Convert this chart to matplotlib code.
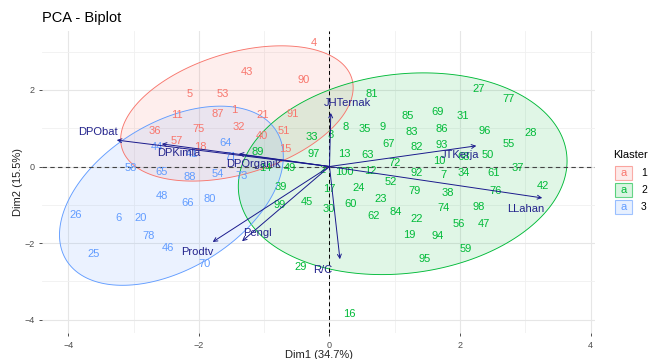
import numpy as np
import matplotlib.pyplot as plt
from matplotlib.patches import Polygon, Rectangle

plt.rcParams['font.family'] = ['Liberation Sans', 'DejaVu Sans']

# individuals, cluster 1
c1_ids = [1, 4, 5, 11, 15, 18, 21, 32, 36, 40, 43, 51, 53, 57, 75, 87, 90, 91]
c1_x = [-1.46, -0.24, -2.14, -2.34, -0.67, -1.98, -1.02, -1.39, -2.67, -1.03,
        -1.26, -0.70, -1.63, -2.34, -2.00, -1.72, -0.39, -0.56]
c1_y = [1.48, 3.22, 1.89, 1.34, 0.46, 0.51, 1.34, 1.03, 0.93, 0.80,
        2.47, 0.93, 1.89, 0.67, 0.98, 1.37, 2.26, 1.37]

# cluster 2
c2_ids = [2, 3, 7, 8, 9, 10, 12, 13, 14, 16, 17, 19, 22, 23, 24, 27, 28, 29, 30, 31,
          33, 34, 35, 37, 38, 39, 42, 45, 47, 49, 50, 52, 55, 56, 59, 60, 61, 62, 63, 67,
          68, 69, 72, 74, 76, 77, 79, 81, 82, 83, 84, 85, 86, 89, 92, 93, 94, 95, 96, 97,
          98, 99, 100]
c2_x = [-0.11, 0.02, 1.75, 0.25, 0.82, 1.68, 0.62, 0.22, -0.99, 0.31, -0.01, 1.23, 1.34, 0.79, 0.44, 2.28, 3.09, -0.45, -0.01, 2.05,
        -0.27, 2.06, 0.54, 2.89, 1.82, -0.74, 3.27, -0.34, 2.37, -0.61, 2.43, 0.94, 2.74, 1.98, 2.09, 0.33, 2.51, 0.67, 0.59, 0.91,
        2.05, 1.65, 1.00, 1.75, 2.54, 2.75, 1.30, 0.64, 1.34, 1.26, 1.02, 1.20, 1.72, -1.10, 1.34, 1.72, 1.65, 1.46, 2.38, -0.25,
        2.29, -0.77, 0.22]
c2_y = [-0.09, 0.82, -0.22, 1.03, 1.03, 0.14, -0.12, 0.33, -0.04, -3.85, -0.59, -1.79, -1.37, -0.85, -0.56, 2.02, 0.87, -2.62, -1.11, 1.32,
        0.77, -0.17, 0.98, -0.04, -0.69, -0.54, -0.51, -0.93, -1.50, -0.04, 0.30, -0.40, 0.59, -1.50, -2.15, -0.98, -0.17, -1.29, 0.30, 0.59,
        0.25, 1.42, 0.09, -1.08, -0.64, 1.76, -0.64, 1.89, 0.51, 0.90, -1.19, 1.32, 0.98, 0.38, -0.17, 0.56, -1.81, -2.42, 0.93, 0.33,
        -1.06, -1.01, -0.14]

# cluster 3
c3_ids = [6, 20, 25, 26, 41, 44, 46, 48, 54, 58, 64, 65, 66, 70, 71, 73, 78, 80, 88]
c3_x = [-3.24, -2.89, -3.61, -3.89, -2.11, -2.64, -2.48, -2.57, -1.71, -3.04,
        -1.59, -2.57, -2.17, -1.92, -1.52, -1.34, -2.77, -1.83, -2.14]
c3_y = [-1.34, -1.34, -2.28, -1.27, 0.33, 0.51, -2.13, -0.77, -0.20, -0.04,
        0.61, -0.14, -0.95, -2.55, 0.25, -0.25, -1.81, -0.85, -0.27]

# variables (arrow tips) and their label positions
var_names = ['DPObat', 'DPKimia', 'DPOrganik', 'JHTernak', 'JTKerja',
             'LLahan', 'R/C', 'Pengl', 'Prodtv']
var_x = [-3.26, -2.57, -1.39, 0.02, 2.25, 3.26, 0.16, -1.34, -1.79]
var_y = [0.69, 0.59, 0.33, 1.40, 0.54, -0.82, -2.42, -1.95, -1.97]
var_lab_x = [-3.55, -2.31, -1.17, 0.27, 2.00, 3.01, -0.10, -1.11, -2.02]
var_lab_y = [0.90, 0.35, 0.07, 1.66, 0.30, -1.11, -2.70, -1.74, -2.23]

cluster_names = ['1', '2', '3']
cluster_colors = ['#F8766D', '#00BA38', '#619CFF']
x_label = 'Dim1 (34.7%)'
y_label = 'Dim2 (15.5%)'


def norm_ellipse(x, y, level=0.92, n=200):
    # same idea as ggplot2 stat_ellipse(type = "norm")
    pts = np.column_stack([x, y])
    d = len(pts) - 1
    fq = (d / 2) * ((1 - level) ** (-2 / d) - 1)  # qf(level, 2, d)
    radius = np.sqrt(2 * fq)
    chol = np.linalg.cholesky(np.cov(pts, rowvar=False)).T
    t = np.linspace(0, 2 * np.pi, n)
    circle = np.column_stack([np.cos(t), np.sin(t)])
    return pts.mean(axis=0) + radius * circle @ chol


fig = plt.figure(figsize=(6.52, 3.59), dpi=100)
ax = fig.add_axes([0.0644, 0.0724, 0.8482, 0.8412])

clusters = [(c1_ids, c1_x, c1_y), (c2_ids, c2_x, c2_y), (c3_ids, c3_x, c3_y)]

for (ids, xs, ys), col in zip(clusters, cluster_colors):
    ell = norm_ellipse(xs, ys)
    ax.add_patch(Polygon(ell, closed=True, facecolor=col, alpha=0.12,
                         edgecolor='none', zorder=1))
    ax.add_patch(Polygon(ell, closed=True, facecolor='none',
                         edgecolor=col, lw=0.65, zorder=1.5))

ax.axhline(0, color='#444444', lw=0.8, ls=(0, (4, 3)), zorder=2)
ax.axvline(0, color='black', lw=0.7, ls=(0, (4, 3)), zorder=2)

for (ids, xs, ys), col in zip(clusters, cluster_colors):
    for i, x, y in zip(ids, xs, ys):
        ax.text(x, y, str(i), color=col, fontsize=8, ha='center', va='center', zorder=3)

for name, x, y, lx, ly in zip(var_names, var_x, var_y, var_lab_x, var_lab_y):
    ax.annotate('', xy=(x, y), xytext=(0, 0),
                arrowprops=dict(arrowstyle='->', color='#1a1a8c', lw=0.7,
                                shrinkA=0, shrinkB=0, mutation_scale=7),
                zorder=4)
    ax.text(lx, ly, name, color='#23238c', fontsize=8, ha='center', va='center', zorder=4)

ax.set_xlim(-4.406, 4.069)
ax.set_ylim(-4.347, 3.538)
ax.set_xticks([-4, -2, 0, 2, 4])
ax.set_yticks([-4, -2, 0, 2])
ax.set_xticks([-3, -1, 1, 3], minor=True)
ax.set_yticks([-3, -1, 1, 3], minor=True)
ax.grid(which='major', color='#E6E6E6', lw=0.8)
ax.grid(which='minor', color='#F0F0F0', lw=0.6)
ax.set_axisbelow(True)
for s in ax.spines.values():
    s.set_visible(False)
ax.tick_params(which='major', length=2.5, width=0.6, color='#333333',
               labelsize=6.5, labelcolor='#4D4D4D', pad=3)
ax.tick_params(which='minor', length=0)

ax.set_xlabel(x_label, fontsize=8, color='#222222')
ax.set_ylabel(y_label, fontsize=8, color='#222222')
ax.xaxis.set_label_coords(0.5, -0.055)
ax.yaxis.set_label_coords(-0.034, 0.5)

fig.text(42 / 652, 1 - 18 / 359, 'PCA - Biplot', fontsize=10.5, ha='left', va='center')

# legend "Klaster"
fig.text(613 / 652, 1 - 155 / 359, 'Klaster', fontsize=8, ha='left', va='center')
for k, (name, col) in enumerate(zip(cluster_names, cluster_colors)):
    cy = 173 + 17 * k
    fig.add_artist(Rectangle((615 / 652, 1 - (cy + 7) / 359), 17 / 652, 14 / 359,
                             transform=fig.transFigure, facecolor=col, alpha=0.15,
                             edgecolor='none'))
    fig.add_artist(Rectangle((615 / 652, 1 - (cy + 7) / 359), 17 / 652, 14 / 359,
                             transform=fig.transFigure, facecolor='none',
                             edgecolor=col, lw=0.8, alpha=0.6))
    fig.text(623.5 / 652, 1 - cy / 359, 'a', color=col, fontsize=8,
             ha='center', va='center')
    fig.text(641 / 652, 1 - cy / 359, name, fontsize=7.5, ha='left', va='center')

fig.savefig('out.png', dpi=100)
